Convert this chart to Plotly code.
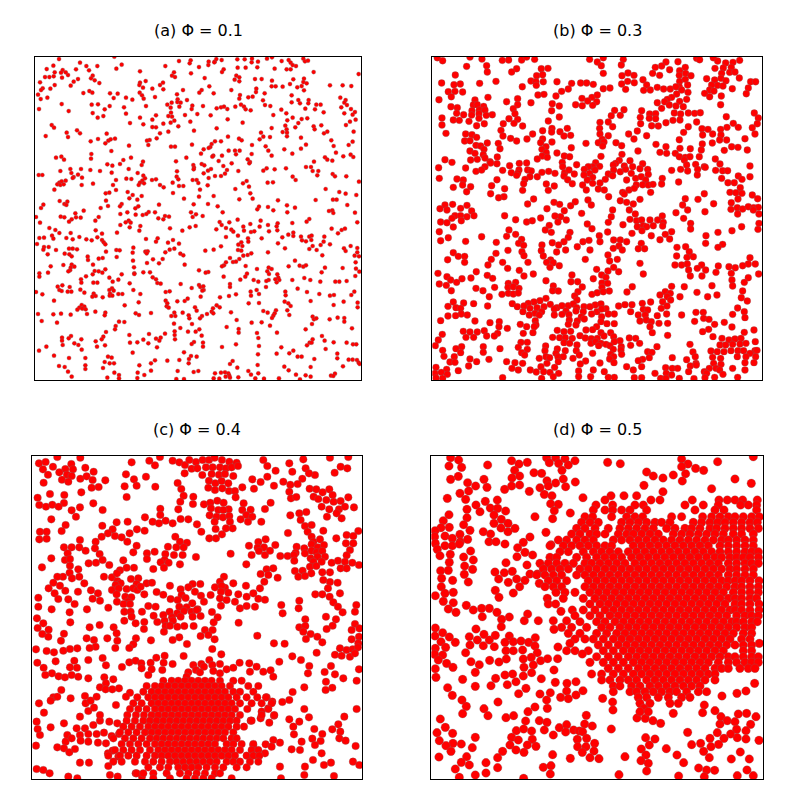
import plotly.graph_objects as go

titles = ["(a) Φ = 0.1", "(b) Φ = 0.3", "(c) Φ = 0.4", "(d) Φ = 0.5"]

# positions are in reading units of the picture, y pointing down
a_pts = [(117,147),(283,140),(180,158),(100,167),(80,177),(199,168),(207,181),(232,168),(305,164),(289,176),(104,187),(128,180),(123,188),(137,187),(144,195),(168,178),(360,184),(436,168),(477,153),(512,151),(509,160),(513,190),(537,171),(566,155),(565,165),(584,155),(589,147),(605,150),(583,157),(652,148),(674,148),(696,146),(695,157),(714,155),(741,146),(756,142),(785,153),(806,150),(812,158),(818,165),(828,168),(812,178),(800,178),(850,146),(855,154),(864,152),(881,186),(1016,192),(764,176),(712,172),(677,173),(653,173),(611,178),(606,186),(649,197),(658,202),(462,187),(456,197),(465,201),(554,204),
(75,201),(88,201),(101,199),(126,203),(174,207),(161,215),(152,227),(218,197),(213,205),(224,211),(238,219),(60,217),(68,235),(91,236),(104,225),(63,240),(54,254),(190,249),(208,243),(217,248),(270,250),(293,251),(360,218),(377,213),(358,225),(369,233),(397,236),(420,225),(429,218),(430,238),(359,248),(366,256),(489,240),(471,253),(545,240),(538,248),(568,229),(581,250),(634,240),(644,209),(658,214),(705,207),(725,207),(709,236),(708,246),(756,212),(755,229),(767,229),(788,230),(820,208),(810,222),(832,232),(852,206),(850,216),(860,220),(845,228),(852,241),(930,226),(968,226),(994,228),(815,256),(660,255),(685,262),(698,260),(734,250),(658,266),
(62,267),(82,263),(281,264),(318,263),(337,269),(371,266),(405,261),(961,263),(977,270),(973,278),(981,285),(964,292),(473,268),(472,276),(482,278),(501,270),(455,278),(442,284),(452,293),(478,290),(125,282),(215,284),(234,283),(269,288),(254,298),(57,297),(146,303),(312,292),(378,288),(517,287),(515,297),(549,288),(590,295),(603,292),(612,290),(622,297),(646,290),(663,284),(672,290),(677,298),(692,301),(729,271),(735,285),(751,288),(815,277),(835,270),(840,280),(866,270),(865,280),(889,284),(902,284),(856,296),(784,299),(799,310),(885,298),(911,307),(993,297),(1005,306),(973,310),(998,314),(218,309),(250,318),(233,323),(318,311),(360,323),(408,316),(397,329),(453,308),(456,320),(445,318),(463,332),(495,315),(532,312),(572,316),(623,328),(760,315),(818,323),(802,331),(845,327),(862,325),(1007,329),(990,335),
(330,339),(370,343),(430,341),(452,338),(511,335),(668,338),(826,352),(835,339),(796,347),(978,345),(95,345),(102,353),(397,351),(408,352),(475,349),(590,355),(755,354),(881,349),(884,358),(904,346),(800,358),(788,366),(801,368),(801,379),(445,365),(420,370),(522,362),(171,361),(180,370),(140,368),(77,378),(144,381),(260,371),(265,392),(272,388),(285,386),(723,368),(730,380),(750,381),(719,388),(912,370),(922,365),(1001,365),(843,383),(624,380),(657,386),(665,391),(389,390),(381,392),(410,385),(234,387),(212,394),(585,394),(603,394),(575,402),(934,391),(998,395),(986,405),
(256,400),(327,407),(385,405),(453,410),(465,410),(516,404),(571,411),(566,414),(551,418),(696,405),(737,409),(745,422),(793,418),(858,404),(843,416),(941,408),(948,428),(274,423),(214,432),(108,443),(124,440),(132,449),(213,446),(543,431),(580,437),(606,437),(626,422),(645,422),(659,422),(648,433),(695,432),(755,437),(817,431),(915,442),(922,449),(970,439),(992,434),(1000,441),(333,443),(310,450),(300,462),(369,455),(499,443),(468,454),(596,453),(635,460),(683,448),(690,456),(882,455),(937,452),(577,440),(262,463),(277,467),(365,465),(520,465),(545,462),(553,466),(522,473),(610,468),(688,460),
(121,483),(151,477),(154,489),(183,477),(211,480),(240,483),(174,494),(161,501),(158,504),(275,488),(326,477),(353,489),(370,497),(471,484),(470,500),(551,490),(521,478),(564,482),(573,477),(585,498),(603,498),(615,491),(621,480),(655,483),(730,482),(740,475),(764,478),(798,475),(858,471),(873,471),(878,483),(895,483),(892,496),(938,492),(945,499),(979,499),(818,500),(827,510),(56,495),(67,495),(186,503),(319,506),(334,507),(288,510),(375,505),(367,512),(396,510),(408,508),(458,518),(475,508),(518,510),(530,510),(535,519),(566,504),(680,513),(669,520),(743,518),(759,517),(1017,515),(360,518),(356,525),(372,520),(118,518),(125,514),(137,512),(112,523),(121,525),(131,523),(185,525),(219,521),(279,525),(420,525),(431,532),(477,528),(490,528),(563,526),(687,530),(646,537),(103,539),(288,540),(540,539),(917,537),
(257,550),(268,548),(323,546),(338,555),(459,549),(365,558),(958,546),(977,551),(1009,555),(691,550),(581,558),(887,570),(328,565),(352,569),(258,572),(492,566),(537,560),(658,568),(698,566),(774,571),(939,569),(950,569),(119,573),(142,575),(133,582),(305,582),(300,589),(70,584),(63,594),(139,585),(264,588),(242,594),(417,584),(355,589),(346,595),(521,583),(564,582),(593,589),(717,590),(712,598),(744,591),(801,586),(825,593),(982,585),(191,602),(322,607),(301,612),(347,614),(368,615),(405,607),(386,606),(379,612),(513,607),(528,613),(608,607),(802,607),(760,601),(937,601),(927,603),(940,609),(1005,608),
(48,621),(122,620),(133,622),(166,610),(168,622),(155,628),(182,623),(147,635),(236,621),(226,632),(326,632),(317,637),(332,638),(435,618),(447,620),(430,628),(415,625),(518,621),(548,618),(599,636),(605,645),(628,637),(653,629),(691,642),(722,632),(744,645),(773,640),(817,639),(860,635),(868,627),(1012,637),(60,638),(301,645),(329,652),(361,648),(358,662),(527,648),(509,652),(487,662),(450,655),(88,654),(106,660),(118,669),(152,669),(227,661),(246,671),(291,668),(589,658),(618,654),(634,659),(640,665),(670,650),(672,662),(693,666),(703,664),(719,650),(747,664),(770,649),(805,674),(820,668),(935,656),(965,660),(975,656),(954,670),(868,680),
(58,684),(72,683),(96,677),(100,686),(139,684),(158,688),(178,681),(199,688),(215,691),(232,682),(246,690),(251,697),(378,687),(413,685),(408,695),(444,698),(459,690),(477,701),(618,681),(654,677),(684,685),(685,695),(725,685),(772,661),(787,682),(820,678),(843,680),(846,691),(858,694),(875,677),(874,690),(913,680),(911,695),(902,705),(51,702),(256,703),(603,709),(664,697),(667,708),(655,704),(774,700),(930,703),(992,708),(72,711),(86,711),(70,719),(108,720),(147,716),(158,716),(171,718),(258,725),(289,720),(299,721),(340,713),(376,725),(383,724),(380,730),(449,719),(463,716),(436,727),(481,731),(490,736),(556,722),(581,719),(795,715),(868,717),(878,708),(890,720),(972,715),(977,723),(1012,714),(1012,727),(1004,737),(1017,739),(83,733),(134,731),(148,733),(155,739),(203,740),(290,741),(338,728),(654,720),(664,722),(670,737),(683,735),(694,730),(744,727),(907,736),
(204,750),(236,746),(248,744),(339,752),(399,748),(428,747),(417,760),(381,759),(630,744),(618,757),(639,756),(648,755),(658,747),(612,766),(606,769),(494,764),(825,752),(839,767),(850,770),(858,766),(219,764),(155,764),(130,765),(92,769),(152,773),(163,770),(677,768),(806,769),(915,773),(968,774),(1007,757),(711,777),(746,773),(755,777),(742,784),(747,792),(1008,776),(1018,785),(537,781),(565,786),(557,788),(611,800),(224,783),(236,784),(256,778),(247,788),(150,781),(145,784),(342,772),(343,790),(370,787),(390,787),(905,787),(681,791),(676,800),(661,809),(58,790),(58,800),(84,788),(218,793),(198,799),(305,793),(343,792),(398,802),(408,808),(772,793),(775,803),(778,810),(770,817),(766,808),(701,810),(715,815),(746,810),(739,813),(817,810),(853,804),(871,810),(901,815),(946,815),(958,815),(980,813),(1006,798),(183,808),(268,803),(295,809),(278,815),(184,818),(220,818),(232,818),(412,819),(422,821),(329,820),(482,822),(537,825),(630,822),(630,831),
(113,830),(127,826),(149,831),(118,840),(125,843),(143,845),(154,845),(181,839),(276,835),(281,842),(268,840),(340,840),(515,834),(541,831),(550,829),(551,840),(547,842),(710,840),(738,831),(692,845),(833,836),(48,846),(67,853),(221,851),(193,848),(217,860),(227,858),(248,862),(270,851),(269,857),(277,857),(295,852),(307,852),(361,852),(437,846),(449,844),(542,860),(600,862),(627,858),(648,853),(693,857),(717,852),(796,845),(797,856),(861,846),(898,852),(930,857),(942,855),(1003,845),(994,855),(102,872),(356,877),(437,872),(442,880),(472,874),(494,873),(503,866),(872,873),(794,875),(805,880),(971,875),(686,880),(717,879),(1013,878),(185,885),(178,893),(193,890),(187,896),(197,898),(172,899),(314,886),(440,889),(446,893),(525,892),(530,902),(579,895),(590,886),(599,892),(941,885),(1013,892),(812,888),
(802,901),(808,915),(730,903),(743,908),(768,901),(764,910),(760,917),(575,905),(580,910),(633,907),(54,912),(100,913),(123,911),(152,914),(201,912),(226,905),(256,908),(254,916),(347,910),(357,915),(393,909),(488,908),(463,908),(454,918),(466,918),(506,916),(508,925),(546,918),(561,912),(540,925),(756,924),(878,920),(882,928),(889,925),(929,928),(953,923),(973,924),(973,935),(65,933),(111,938),(297,935),(313,936),(287,948),(285,958),(650,930),(695,938),(725,937),(750,947),(876,942),(462,941),(516,942),(620,951),(481,954),(656,957),(996,955),(857,958),(504,965),(464,964),(538,958),(527,965),(656,968),
(258,966),(771,968),(711,969),(387,972),(435,971),(328,975),(464,975),(126,983),(153,978),(146,985),(250,980),(245,988),(465,988),(545,977),(906,978),(126,992),(184,988),(370,989),(408,986),(422,983),(418,992),(914,992),(878,988),(869,998),(715,984),(163,1000),(227,994),(330,998),(352,997),(385,1000),(522,996),(515,1002),(549,998),(648,1003),(941,997),(980,998),(999,1003),(1009,1003),(128,1005),(175,1005),(231,1010),(255,1006),(411,1012),(549,1010),(606,1011),(57,1022),(79,1010),(185,1019),(717,1008),(784,1012),(861,1006),(875,998),(917,1017),(338,1028),(492,1027),(714,1033),(770,1031),(808,1030),(820,1022),(952,1031),(102,1037),(513,1038),(530,1040),(833,1040),(845,1040),
(147,1044),(196,1044),(264,1040),(275,1043),(507,1047),(952,1045),(986,1049),(998,1049),(1011,1050),(1016,1058),(883,1047),(405,1051),(442,1052),(478,1050),(393,1060),(254,1056),(269,1060),(282,1060),(506,1060),(638,1053),(630,1062),(713,1065),(117,1068),(134,1071),(196,1066),(196,1077),(249,1074),(358,1066),(793,1070),(872,1071),(969,1069),(652,1073),(1019,1062),(144,1085),(283,1088),(353,1088),(373,1095),(393,1082),(473,1083),(521,1086),(535,1083),(585,1090),(603,1088),(615,1087),(625,1090),(628,1097),(685,1083),(715,1090),(806,1081),(828,1094),(857,1096),(872,1100),(945,1091),(933,1097),(940,1098),(693,1094),(155,1100),(297,1095),(297,1105),(262,1103),(352,1104),(469,1107),(492,1107),(581,1105),(598,1106),(617,1100),(630,1103),(655,1102),(706,1105),(732,1106),(777,1105),(840,1108)]

b_pts = [(52,143),(68,152),(150,141),(186,147),(247,151),(266,150),(305,150),(320,141),(344,148),(509,148),(550,143),(532,156),(544,167),(610,148),(604,165),(830,145),(839,149),(880,143),(893,153),(917,159),(939,157),(959,151),(738,156),(725,168),(706,172),(749,179),(774,155),(140,169),(200,167),(290,176),(275,186),(364,176),(384,175),(350,197),(368,194),(202,186),(106,195),(550,190),(606,197),(624,189),(642,196),(698,190),(719,196),(779,182),(796,172),(778,196),(797,190),(813,197),(885,175),(910,174),(934,172),(905,190),(929,187),(945,186),
(65,219),(102,224),(121,222),(179,220),(228,214),(333,213),(348,215),(370,215),(411,215),(455,220),(482,219),(500,219),(520,223),(605,222),(623,214),(643,218),(669,209),(680,225),(779,214),(796,208),(778,230),(803,225),(860,206),(884,210),(903,205),(893,226),(875,225),(918,212),(958,204),(992,215),(1007,215),(985,234),(307,230),(349,226),(550,236),(570,234),(617,238),(671,241),(691,240),(712,232),(731,237),(751,237),(768,230),(785,240),(804,247),(869,240),(882,243),(909,228),(937,236),(85,245),(105,244),(128,246),(445,237),(425,244),(354,255),(372,253),(408,258),(854,250),(979,251),(94,260),(204,262),(869,260),(904,258),(770,252),(755,262),(742,268),(800,268),
(57,269),(165,270),(260,275),(293,266),(333,278),(486,265),(516,262),(532,255),(503,273),(530,275),(712,278),(734,275),(779,274),(397,281),(467,284),(487,287),(518,286),(293,284),(280,296),(418,288),(395,302),(902,284),(93,290),(112,293),(160,285),(172,284),(191,289),(156,302),(178,300),(725,295),(748,285),(768,288),(790,290),(110,310),(131,314),(155,315),(177,311),(195,300),(199,316),(217,314),(285,311),(584,301),(612,299),(665,302),(574,317),(601,316),(689,312),(707,311),(763,309),(782,312),(805,309),(824,310),(841,308),(1003,309),(919,320),(66,324),(100,330),(118,331),(147,334),(177,325),(267,326),(293,328),(418,321),(661,322),(688,325),(707,326),(759,331),(780,330),(1015,324),
(170,347),(193,341),(66,345),(250,341),(282,340),(308,348),(385,333),(396,355),(442,355),(540,337),(565,336),(578,350),(662,341),(695,347),(715,348),(738,338),(830,336),(1012,341),(940,340),(955,352),(997,353),(243,361),(368,362),(420,365),(539,355),(652,363),(805,350),(846,356),(864,358),(902,358),(921,352),(78,370),(137,372),(156,374),(249,378),(338,372),(432,378),(452,376),(540,372),(565,377),(626,372),(680,377),(791,367),(848,375),(878,372),(903,375),(1005,372),(170,382),(272,385),(290,393),(321,387),(368,387),(395,366),(547,388),(642,387),(778,389),(899,390),(920,390),(975,386),(134,393),(150,392),(202,399),(235,400),(362,398),(396,396),(498,400),(535,398),(552,396),(588,398),(708,403),(847,402),(877,399),
(168,406),(182,408),(240,416),(378,410),(366,418),(454,413),(548,408),(605,407),(738,410),(811,416),(780,415),(844,420),(935,410),(954,412),(982,420),(913,421),(150,423),(192,418),(165,430),(190,434),(411,429),(379,428),(367,438),(720,427),(740,430),(654,423),(766,430),(778,440),(838,440),(232,441),(352,447),(382,442),(433,438),(449,440),(543,439),(606,433),(152,450),(172,448),(195,444),(210,455),(796,442),(810,440),(793,450),(800,465),(75,449),(96,457),(231,461),(269,467),(298,460),(320,459),(427,457),(470,464),(428,470),(527,458),(518,470),(539,469),(598,451),(587,460),(630,452),(638,470),(668,461),(827,463),(853,470),(886,447),(900,462),(990,468),(56,473),(137,474),(212,459),(195,470),(297,480),(505,470),(580,465),(613,468),
(168,484),(185,480),(248,481),(274,488),(293,490),(323,480),(334,483),(366,487),(386,484),(405,490),(434,488),(447,480),(463,492),(493,478),(509,490),(525,480),(581,480),(601,485),(617,478),(634,490),(660,476),(683,478),(755,481),(782,478),(803,483),(833,478),(856,472),(887,481),(908,482),(923,482),(290,496),(330,500),(352,500),(432,498),(492,495),(565,492),(685,493),(647,505),(664,500),(727,505),(832,495),(58,505),(111,507),(130,510),(231,509),(315,508),(443,509),(518,502),(502,510),(556,508),(578,497),(677,510),(955,498),(990,500),(905,505),(776,516),(215,527),(311,521),(379,522),(403,528),(457,521),(488,525),(518,520),(540,519),(620,510),(649,525),(668,524),(685,525),(699,523),(725,522),(924,518),(943,518),(966,508),(128,525),(152,530),(100,532),(140,545),(254,536),(308,541),(385,541),(535,537),(553,540),(499,540),(961,533),(608,547),(627,540),(643,535),(692,547),
(212,551),(252,560),(236,563),(566,560),(613,552),(930,547),(948,548),(966,550),(997,555),(504,570),(853,551),(834,568),(796,566),(341,567),(660,568),(601,572),(620,577),(640,582),(954,567),(1013,566),(323,582),(402,577),(419,583),(466,575),(452,587),(514,585),(881,581),(788,585),(934,578),(75,585),(98,583),(141,586),(60,596),(81,600),(122,595),(155,603),(381,596),(433,602),(578,600),(628,600),(803,600),(933,598),(952,593),(968,597),(985,590),(1001,593),(1015,592),(1000,600),(1017,612),(855,605),(768,608),(953,612),(485,610),(646,612),(105,617),(122,617),(141,620),(162,617),(96,625),(254,617),(422,620),(405,618),(574,620),(727,618),(791,625),
(124,632),(62,636),(81,638),(287,629),(320,636),(337,632),(362,624),(439,630),(414,636),(502,642),(565,637),(630,628),(650,632),(665,630),(690,630),(713,630),(730,637),(812,640),(1017,640),(388,646),(609,644),(652,650),(670,647),(680,650),(700,647),(728,648),(100,651),(965,650),(376,660),(394,667),(516,656),(58,665),(267,660),(563,666),(636,670),(666,662),(755,665),(812,657),(1014,658),(450,667),(936,662),(894,667),(287,673),(260,679),(185,680),(85,683),(445,682),(538,677),(694,677),(736,673),(858,677),(62,692),(137,694),(229,697),(305,688),(296,700),(432,695),(489,695),(507,691),(581,690),(601,690),(620,695),(540,695),(720,689),(749,687),(857,700),(908,703),(894,712),
(397,698),(416,705),(366,705),(311,706),(472,710),(597,708),(664,700),(655,716),(674,716),(580,715),(771,712),(797,710),(808,725),(437,720),(264,721),(228,730),(364,722),(410,726),(510,720),(607,720),(100,728),(115,739),(134,739),(306,725),(312,737),(370,738),(564,735),(770,738),(801,742),(820,740),(990,743),(83,749),(214,748),(392,750),(496,748),(592,748),(134,757),(204,765),(248,757),(324,757),(380,757),(400,758),(569,753),(660,760),(985,762),(1006,762),(765,765),(785,765),(802,762),(845,765),
(54,790),(169,785),(263,775),(298,781),(390,772),(418,767),(530,778),(581,772),(564,783),(596,785),(670,792),(832,775),(857,780),(895,768),(888,787),(927,770),(946,773),(968,767),(806,780),(1016,792),(202,796),(340,792),(456,795),(545,795),(558,802),(985,803),(153,804),(126,806),(81,800),(92,810),(110,817),(218,805),(312,798),(378,812),(453,815),(473,815),(487,831),(520,806),(546,819),(563,820),(811,798),(846,798),(934,790),(936,810),(973,817),(58,822),(79,826),(287,817),(265,820),(400,828),(546,832),(938,828),(876,827),(168,835),(224,832),(637,830),(793,830),(755,829),(94,842),(189,842),(264,832),(280,830),(297,835),(265,850),(280,852),(295,849),(246,853),(398,842),(415,843),(474,845),(516,853),(532,848),(550,845),(568,843),(621,846),(736,845),(751,850),(831,847),(968,843),
(208,860),(464,858),(720,855),(742,860),(780,860),(863,860),(891,855),(964,863),(378,865),(360,872),(342,876),(325,880),(471,870),(728,875),(752,870),(100,876),(131,879),(161,881),(277,881),(982,873),(292,890),(312,888),(330,895),(351,893),(372,890),(391,883),(411,893),(426,887),(445,887),(460,882),(470,893),(492,890),(526,885),(543,882),(558,896),(596,888),(615,884),(636,884),(667,880),(692,876),(724,895),(741,888),(84,889),(108,893),(122,895),(203,888),(953,894),(309,905),(345,910),(365,905),(403,897),(438,903),(468,903),(490,905),(510,890),(531,905),(545,897),(632,905),(670,898),(683,900),(828,907),(850,907),(973,905),(124,912),(84,918),(107,917),(142,915),(328,915),(358,915),(403,915),
(426,913),(447,914),(484,921),(515,912),(545,920),(565,912),(583,912),(655,915),(676,915),(712,917),(740,912),(785,915),(851,925),(938,913),(975,923),(62,932),(165,933),(346,932),(448,930),(472,933),(493,927),(543,935),(660,933),(679,930),(694,935),(824,934),(867,928),(210,938),(238,935),(301,943),(348,945),(445,943),(468,945),(561,941),(583,941),(690,950),(717,940),(743,940),(884,943),(913,937),(320,950),(343,950),(530,950),(936,951),(262,955),(237,950),(193,962),(130,964),(150,966),(172,966),(233,970),(339,968),(412,961),(432,965),(452,964),(498,960),(518,959),(543,968),(572,968),(697,968),(866,958),(848,965),(1002,960),(973,967),(67,973),(310,970),(223,978),(138,982),(161,982),(200,978),(398,982),(419,983),(436,983),(457,985),(480,977),(496,984),(514,986),(532,985),(552,978),(581,980),(628,984),(647,985),(743,976),(879,980),
(55,990),(46,1007),(303,997),(322,997),(432,998),(449,1000),(513,1000),(527,995),(543,1000),(558,1003),(600,992),(583,995),(659,1000),(906,985),(927,990),(945,987),(963,985),(1006,995),(900,1005),(917,1005),(938,1003),(960,1002),(978,1000),(190,1010),(125,1010),(108,1016),(295,1012),(377,1008),(412,1017),(471,1005),(536,1007),(570,1007),(604,1010),(632,1006),(711,1010),(810,1003),(1005,1022),(68,1021),(122,1028),(190,1027),(240,1016),(322,1018),(305,1028),(375,1022),(408,1030),(436,1022),(469,1022),(518,1030),(580,1018),(603,1020),(683,1025),(696,1027),(819,1026),(873,1023),(892,1025),(912,1025),(933,1022),(954,1022),(971,1022),(990,1030),(1011,1021),(72,1039),(103,1040),(314,1035),(378,1040),(414,1041),(478,1035),(572,1033),(605,1033),(581,1040),(430,1040),(688,1043),(668,1048),(1007,1040),(978,1040),(952,1040),(826,1040),(878,1042),(902,1045),(150,1047),(207,1048),(358,1045),(389,1043),(415,1055),(459,1045),(497,1053),(569,1047),(655,1052),(757,1043),(800,1049),
(90,1056),(105,1057),(170,1055),(260,1055),(285,1058),(308,1060),(381,1060),(481,1062),(540,1059),(582,1058),(828,1060),(881,1060),(903,1063),(975,1058),(1002,1058),(146,1068),(276,1075),(363,1070),(404,1072),(620,1070),(665,1070),(737,1073),(757,1075),(773,1075),(811,1068),(829,1065),(868,1075),(888,1075),(938,1075),(48,1072),(80,1078),(115,1082),(295,1080),(331,1080),(349,1086),(371,1085),(390,1087),(416,1090),(476,1083),(520,1080),(553,1085),(640,1080),(705,1090),(739,1090),(755,1095),(806,1085),(853,1085),(899,1080),(975,1080),(45,1090),(64,1087),(82,1093),(860,1090),(909,1093),(248,1103),(365,1105),(400,1100),(476,1100),(512,1100),(565,1102),(583,1102),(643,1103),(665,1103),(722,1105),(738,1105),(778,1105),(822,1106),(855,1103),(884,1102),(953,1102),(48,1104),(68,1105)]

c_pts = [(112,141),(181,143),(57,160),(77,156),(99,170),(154,162),(69,178),(196,173),(136,177),(118,187),(159,178),(221,185),(84,194),(141,194),(155,198),(126,209),(145,215),(181,206),(200,199),(71,218),(218,210),(256,211),(215,233),(236,231),(335,157),(388,152),(405,166),(420,141),(458,152),(478,157),(495,165),(508,150),(528,156),(548,150),(567,150),(584,143),(606,150),(628,155),(650,158),(515,176),(532,175),(494,190),(547,195),(558,172),(578,172),(600,172),(618,175),(635,172),(654,168),(575,192),(597,194),(615,192),(640,198),(318,193),(378,200),(342,208),(314,229),(350,227),(406,230),(473,219),(484,237),(567,212),(586,220),(605,213),(625,220),(565,233),(585,240),(607,235),(627,243),(645,243),(667,232),(184,247),(90,252),(491,257),(697,208),(702,236),(722,216),(742,200),(762,227),(767,182),(730,150),(742,168),(808,160),(850,148),(930,143),(985,141),(817,185),(857,175),(944,188),(962,170),(982,175),(885,195),(867,190),(847,206),(790,215),(833,222),(811,224),(808,245),(869,236),(889,238),(928,238),(908,247),(938,255),(813,265),(829,261),(881,260),(895,267),(919,270),(941,275),(962,273),(985,262),(133,255),(53,263),(320,261),(520,260),(519,282),(481,275),(475,298),(552,283),(571,278),(592,272),(611,278),(626,298),(671,280),(647,262),(752,278),(735,297),(132,279),(58,285),(78,290),(97,284),(116,290),(155,301),(180,292),(220,280),(248,300),(421,296),(573,295),(595,300),(610,300),(667,300),(692,299),(905,290),(928,298),(957,298),(1002,292),(975,290),(838,310),(859,306),(168,320),(375,322),(421,315),(569,316),(590,320),(609,322),(628,318),(679,315),(697,320),(811,316),(921,320),(950,310),(94,328),(290,337),(323,335),(398,335),(417,340),(437,332),(458,340),(482,327),(505,328),(584,335),(630,335),(662,328),(684,335),(724,335),(842,330),(965,325),(137,345),(247,347),(531,343),(855,348),(875,345),(618,355),(638,355),(587,357),(278,358),(125,363),(60,365),(80,365),(351,358),(374,362),(544,365),(910,362),(863,365),(1015,363),(264,370),(245,380),(329,370),(285,378),(804,369),(875,380),(980,375),(1000,378),(466,380),(305,382),(58,388),(80,386),(568,385),(588,385),(606,373),(715,396),(737,388),(880,395),(900,388),(949,385),(1000,400),(180,390),(227,395),(322,395),(480,395),(501,398),(350,407),(444,410),(469,412),(491,412),(687,407),(713,413),(732,412),(766,405),(830,410),(853,415),(875,403),(893,412),(912,405),(978,400),(132,412),(155,412),(178,412),(197,422),(225,415),(340,427),(695,435),(717,423),(735,435),(750,422),(827,428),(855,430),(875,422),(890,427),(907,423),(990,420),(143,430),(381,430),(404,425),(436,432),(462,435),(488,435),(528,441),(632,431),(781,438),(803,438),(822,435),(980,436),(239,432),(135,450),(150,447),(94,445),(381,447),(434,450),(310,451),(823,452),(872,445),(893,440),(915,440),(206,460),(228,458),(248,450),(422,457),(446,458),(268,465),(480,463),(679,463),(880,455),(905,455),(935,458),(954,452),(975,455),(997,458),(1017,465),(150,467),(66,472),(175,478),(320,473),(342,473),(400,477),(432,473),(870,470),(889,468),(962,475),(980,475),(300,481),(740,478),(760,475),(722,492),(825,483),(848,482),(874,490),(907,487),(930,487),(149,488),(129,500),(112,500),(156,505),(178,500),(252,500),(276,502),(291,490),(612,500),(773,503),(745,495),(835,500),(855,498),(910,510),(193,520),(100,518),(120,527),(86,535),(292,513),(302,520),(333,507),(355,505),(380,520),(396,518),(733,515),(287,525),(350,522),(450,527),(518,522),(541,522),(600,515),(640,520),(930,516),(953,518),(276,540),(296,535),(320,537),(340,535),(352,540),(362,530),(482,538),(505,532),(585,532),(615,533),(605,528),(678,527),(720,535),(924,535),(213,541),(174,545),(104,550),(136,542),(290,553),(373,553),(410,546),(430,554),(452,567),(485,555),(525,545),(543,557),(572,555),(625,548),(603,545),(655,553),(680,560),(700,550),(886,553),(907,553),(960,550),(234,550),(55,563),(115,567),(145,568),(218,566),(240,572),(316,560),(334,562),(324,575),(473,570),(497,564),(517,580),(552,575),(600,565),(645,575),(715,566),(735,569),(929,560),(164,582),(291,575),(311,582),(330,582),(385,588),(407,590),(478,590),(500,592),(533,598),(603,587),(620,570),(660,595),(680,588),(705,590),(838,572),(784,585),(940,577),(1009,585),(55,590),(95,598),(201,598),(265,593),(836,595),(954,590),(149,607),(313,605),(332,605),(366,605),(449,605),(472,610),(492,603),(515,605),(530,600),(576,606),(788,610),(1005,605),(968,607),(313,632),(335,620),(401,617),(430,615),(456,622),(482,620),(518,620),(542,618),(593,622),(918,620),(51,625),(70,640),(151,637),(347,640),(373,636),(412,636),(434,632),(459,632),(581,637),(656,638),(856,628),(948,628),(1005,642),(209,652),(239,645),(281,652),(372,657),(437,648),(450,647),(472,650),(493,648),(521,648),(838,652),(856,648),(938,647),(920,657),(53,654),(86,659),(432,665),(555,660),(578,660),(995,660),(1018,655),(290,670),(67,672),(132,671),(850,665),(872,672),(712,677),(542,678),(565,675),(478,682),(85,680),(200,685),(222,690),(262,685),(292,692),(348,685),(393,691),(458,690),(584,688),(858,687),(892,680),(1017,680),(995,688),(123,692),(340,703),(227,710),(209,714),(286,714),(501,702),(762,700),(794,701),(907,697),(1015,700),(48,718),(80,723),(102,727),(130,722),(150,717),(172,715),(328,714),(577,717),(890,728),(960,715),(980,720),(998,718),(1014,712),(945,734),(965,737),(990,740),(1005,730),(248,744),(491,738),(817,739),(107,754),(52,758),(163,752),(205,750),(328,757),(347,752),(364,760),(409,743),(434,737),(392,758),(431,758),(458,762),(568,750),(604,733),(544,762),(778,755),(843,750),(659,758),(688,760),(258,766),(306,771),(71,773),(150,772),(171,773),(868,768),(933,768),(395,778),(427,780),(520,765),(528,780),(552,770),(577,765),(600,762),(620,778),(640,773),(710,770),(730,785),(752,781),(1017,778),(914,786),(945,793),(76,795),(96,790),(116,799),(135,802),(155,795),(175,800),(205,805),(253,802),(365,775),(385,795),(505,787),(500,800),(540,787),(580,783),(600,790),(690,785),(760,800),(864,790),(970,805),(1010,812),
(142,975),(170,955),(195,955),(220,945),(240,932),(268,935),(292,940),(180,975),(205,972),(230,972),(252,968),(275,978),(297,972),(137,995),(155,985),(182,992),(205,995),(234,998),(258,1000),(280,985),(112,1012),(132,1015),(148,1027),(165,1017),(48,1007),(60,975),(50,935),(53,957),(92,952),(132,940),(180,920),(205,903),(222,893),(240,915),(197,880),(212,872),(230,860),(195,858),(100,862),(112,860),(124,840),(152,865),(57,880),(92,872),(72,908),(288,885),(240,832),(258,820),(280,808),(257,838),(277,838),(297,835),(330,848),(318,860),(740,862),(757,875),(745,895),(725,905),(762,917),(722,925),(748,938),(692,932),(787,876),(808,870),(818,846),(853,832),(808,928),(838,935),(853,897),(867,922),(820,950),(883,957),(822,973),(845,995),(877,986),(907,972),(937,958),(955,943),(961,965),(958,985),(977,992),(902,993),(885,1005),(840,1020),(815,1018),(1007,1008),(905,1030),(879,1050),(855,1070),(853,1095),(912,1065),(933,1058),(999,1055),(1018,1065),(780,1070),(942,1098),(783,1105),(737,1003),(760,990),(780,998),(755,1010),(735,1030),(700,1005),(180,1058),(207,1058),(265,1068),(50,1077),(70,1080),(89,1090),(145,1100),(172,1105),(270,1095),(293,1100),(347,1090),(366,1100),(635,1105),(264,1030),(278,1022),(295,1040),(918,815),(937,833),(917,840),(1010,897),(973,920)]

# dense patch of panel c, one row per line: (y, xs)
c_rows = [
(812,[430,455,475,495,515,535,555,575,600,640,665]),
(828,[380,405,425,445,465,485,505,525,545,565,585,605,630,685,715]),
(845,[370,395,415,435,455,475,495,515,535,555,575,595,615,640,660,700]),
(862,[352,385,405,425,445,465,485,505,525,545,565,585,605,625,650,680,712,738]),
(880,[340,365,395,415,435,455,475,495,515,535,555,575,595,615,635,660,695,725,755]),
(897,[330,355,380,405,425,445,465,485,505,525,545,565,585,605,625,645,682,745]),
(915,[322,348,372,395,415,435,455,475,495,515,535,555,575,595,615,635,660,725,763]),
(932,[320,345,370,390,410,430,450,470,490,510,530,550,570,590,610,630,650,695]),
(950,[310,335,360,385,405,425,445,465,485,505,525,545,565,585,605,625,650,672]),
(967,[300,325,350,375,395,415,435,455,475,495,515,535,555,575,595,615,640]),
(985,[315,340,365,390,410,430,450,470,490,510,530,550,570,590,610,635,650]),
(1002,[305,330,355,380,405,425,445,465,485,505,525,545,565,585,620,640,665,700]),
(1020,[285,310,335,360,390,415,435,455,475,495,515,535,555,575,595,615,635,660,695,715]),
(1037,[265,300,325,350,380,405,425,445,465,485,505,525,545,565,585,605,625,645,680,700,718]),
(1055,[280,305,345,375,400,425,450,470,490,510,530,550,570,590,620,640,660,690,715]),
(1072,[385,420,445,475,495,515,535,560,585,610,650,680]),
(1090,[350,370,400,440,480,505,530,555,585,600]),
(1105,[400,450,500,525,550,575]),
]

d_pts = [(92,143),(116,150),(87,168),(125,172),(203,165),(275,152),(297,162),(322,157),(284,181),(342,188),(365,190),(380,143),(407,143),(435,146),(388,158),(416,160),(465,152),(426,181),(445,165),(563,157),(601,161),(785,147),(804,162),(785,170),(893,155),(1000,140),(827,175),(851,181),(680,186),(797,191),(760,195),(700,198),(729,204),(787,213),(945,207),(994,220),(875,236),(672,226),(729,245),(92,208),(115,199),(143,218),(192,208),(276,204),(299,198),(381,212),(430,207),(466,216),(167,228),(201,232),(146,243),(120,250),(254,238),(275,228),(299,225),(328,244),(360,233),(407,219),(385,228),(437,230),(373,253),(396,257),(489,263),(82,265),(137,268),(196,274),(232,270),(168,285),(211,294),(233,295),(141,298),(257,303),(180,305),(392,281),(415,283),(403,302),(222,315),(87,314),(141,323),(345,320),(398,326),(451,309),(244,328),(70,332),(222,340),(131,344),(264,340),(63,353),(88,352),(243,354),(285,355),(150,361),(264,365),(45,362),(190,365),(212,372),(120,373),(75,378),(378,367),(330,381),(44,380),(97,385),(121,395),(143,388),(207,395),(228,395),(255,402),(310,397),(46,400),(75,407),(97,407),(118,402),(293,413),(393,404),(52,418),(152,423),(315,427),(60,437),(91,433),(131,441),(291,440),(338,435),(88,457),(160,450),(134,468),(258,458),(321,465),(62,482),(85,481),(158,478),(225,486),(253,488),(277,484),(133,493),(236,507),(265,517),(290,507),(315,511),(330,492),(352,492),(65,505),(98,511),(145,516),(64,530),(299,530),(226,541),(75,550),(100,547),(46,557),(280,549),(237,562),(70,574),(100,578),(139,586),(85,597),(108,607),(160,600),(185,595),(208,595),(231,607),(187,620),(268,621),(245,628),(323,612),(313,632),(355,632),(244,650),(46,654),(68,668),(168,657),(192,673),(45,678),(88,681),(148,680),(172,690),(208,690),(226,676),(268,678),(63,695),(106,697),(150,705),(190,707),(255,697),(280,695),(303,693),(326,697),(346,683),(223,710),(46,715),(77,712),(258,722),(280,722),(308,720),(345,708),(352,728),(414,711),(44,733),(68,735),(137,728),(55,750),(80,760),(99,772),(153,755),(178,764),(209,751),(237,756),(259,747),(310,747),(334,742),(362,752),(383,746),(413,746),(46,776),(166,787),(312,772),(340,765),(402,780),(48,802),(128,808),(227,805),(255,795),(278,792),(310,798),(335,788),(364,806),(213,827),(262,824),(288,815),(406,817),(441,820),(468,815),(166,829),(83,833),(318,835),(97,856),(296,851),(360,852),(391,848),(440,843),(489,842),(468,855),(422,862),(445,866),(380,870),(126,870),(234,876),(139,889),(382,895),(345,891),(192,896),(324,905),(128,911),(204,917),(258,923),(281,917),(61,927),(317,933),(358,932),(381,937),(76,952),(289,962),(311,957),(335,963),(418,953),(440,944),(437,966),(461,960),(373,960),(400,975),(51,968),(98,970),(166,982),(275,982),(337,988),(58,992),(99,1000),(124,1002),(78,1007),(157,1013),(270,1005),(295,990),(322,1005),(348,1009),(93,1024),(248,1024),(288,1020),(312,1027),(57,1041),(233,1043),(140,1040),(398,1034),(451,1045),(124,1057),(198,1058),(148,1065),(106,1077),(233,1073),(370,1072),(393,1067),(198,1089),(166,1095),(118,1102),(391,1092),(311,1105),
(499,916),(494,942),(517,948),(478,963),(488,965),(472,988),(500,985),(524,1000),(473,1010),(498,1010),(487,1027),(522,1023),(510,1043),(537,1046),(574,957),(548,865),(578,876),(579,900),(651,924),(676,925),(699,932),(722,940),(677,983),(705,987),(688,1005),(664,1017),(678,1035),(663,1052),(685,1060),(680,1083),(739,1016),(771,1035),(791,1058),(615,1040),(597,1094),(776,1098),(803,967),(815,1004),(842,1000),(851,1024),(868,1043),(836,1074),(860,1080),(884,1081),(853,1100),(870,985),(873,1010),(892,968),(912,985),(896,1003),(900,942),(885,902),(903,920),(922,932),(945,935),(955,912),(980,910),(1008,920),(992,943),(950,958),(978,962),(952,983),(932,972),(978,987),(1017,991),(961,1026),(934,1047),(988,1047),(981,1080),(952,1097),(1000,1097),(906,858),(951,850),(978,843),(1004,820),(853,885),(848,908),(760,910)]

# dense patch of panel d, one row per line: (y, xs)
d_rows = [
(257,[573,612,650]),
(270,[555,693,720,817,897,922,945,968,1012]),
(285,[528,578,645,670,795,850,895,962,985,1010]),
(300,[520,555,578,605,630,680,825,885,912,1010]),
(320,[495,518,575,620,645,668,755,785,848,875,900,925,945,970,995,1018]),
(337,[485,510,535,605,630,655,680,705,725,750,820,845,870,893,915,940,965,990,1012]),
(355,[470,495,525,565,600,625,650,675,700,740,765,795,815,840,870,890,915,940,965,990,1015]),
(372,[455,480,510,530,555,595,620,640,665,690,715,760,785,810,835,860,885,910,940,965,1000]),
(390,[415,440,470,495,520,580,605,630,655,680,705,730,755,780,805,830,855,880,905,925,950,975,1000]),
(407,[390,430,455,480,505,530,555,575,640,665,690,715,740,765,790,815,840,865,900,925,950,975,1000]),
(425,[420,445,490,520,545,570,595,625,650,675,700,725,750,775,800,825,850,875,900,925,950,975,995,1015]),
(442,[390,410,470,500,530,555,580,605,635,660,685,710,735,760,785,810,835,860,885,905,930,950,970,990,1015]),
(460,[360,385,410,435,460,495,515,540,565,590,615,645,670,695,720,745,770,795,820,845,870,895,925,950,975,995,1015]),
(477,[370,395,420,445,480,505,530,555,580,605,630,655,680,705,730,755,780,805,830,855,880,905,930,950,975,1000]),
(495,[350,375,400,425,470,495,520,545,570,595,620,645,670,695,720,745,770,795,820,845,870,895,925,950,975,1000]),
(512,[385,410,440,505,530,555,580,605,630,655,680,705,730,755,780,805,830,855,880,905,925,945,965,990,1017]),
(520,[358]),
(530,[375,400,425,495,520,545,570,595,620,645,670,695,720,745,770,795,820,845,870,895,920,945,965,990,1015]),
(547,[408,435,465,510,535,560,585,610,635,660,685,710,735,760,785,810,835,860,885,910,940,965,990,1015]),
(565,[382,430,490,525,550,575,600,625,650,675,700,725,750,775,800,825,850,875,900,925,945,965,990,1010]),
(582,[385,407,510,540,565,590,615,640,665,690,715,740,765,790,815,840,865,890,915,945,965,990,1017]),
(600,[457,490,525,555,580,605,630,655,680,705,730,755,780,805,830,855,880,905,930,945,965,990,1017]),
(604,[423]),
(617,[465,510,540,570,595,620,645,670,695,720,745,770,795,820,845,870,895,920,950,975,995,1015]),
(632,[400,440]),
(635,[480,530,555,585,610,635,660,685,710,735,760,785,810,835,860,885,910,935,950,970,995,1012]),
(652,[425,455,500,545,570,600,625,650,675,700,725,750,775,800,825,850,875,900,925,950,975,995]),
(658,[402]),
(670,[445,480,530,560,590,615,640,665,690,715,740,765,790,815,840,865,890,915,940,970,995]),
(687,[465,495,520,550,580,605,630,655,680,705,730,755,780,805,830,855,880,905,930,965,990]),
(700,[450,1018]),
(705,[535,565,595,620,645,670,695,720,745,770,795,820,845,870,895,920,945,970,995]),
(722,[440,465,505,550,580,610,635,660,685,710,735,760,785,810,835,860,885,910,970,995]),
(732,[487]),
(740,[530,565,595,625,650,675,700,725,750,775,800,825,850,875,900,925,945,970,995,1015]),
(757,[510,550,580,610,640,665,690,715,740,765,790,815,840,865,895,925,950,975,995,1015]),
(775,[565,595,625,655,680,705,730,755,780,805,830,855,885,905,925,960,985,1005]),
(792,[515,545,580,610,640,665,690,715,740,765,790,815,840,865,885]),
(810,[545,570,600,625,650,680,705,730,755,780,805,830,855,885]),
(828,[580,600,635,660,690,715,740,765,790,815,840]),
(845,[580,630,650,675,700,725,750,770,800,835,860]),
(862,[655,680,715,745,785,810]),
(880,[660,690,750,775]),
(895,[672]),
(905,[660,685]),
]


def unroll(rows):
    return [(x, y) for y, xs in rows for x in xs]


def add_panel(fig, n, pts, size, box, x_range, y_range):
    l, r, t, b = box
    xname, yname = f"x{n}", f"y{n}"
    fig.add_trace(go.Scatter(
        x=[p[0] for p in pts], y=[p[1] for p in pts],
        mode="markers", xaxis=xname, yaxis=yname, showlegend=False,
        marker=dict(color="#ff0000", size=size,
                    line=dict(color="rgba(110,110,110,0.7)", width=0.4)),
    ))
    axis = dict(showticklabels=False, ticks="", showgrid=False, zeroline=False,
                showline=True, mirror=True, linecolor="black", linewidth=1)
    fig.update_layout({
        f"xaxis{n}": dict(axis, domain=[l / 800, r / 800], range=x_range, anchor=yname),
        f"yaxis{n}": dict(axis, domain=[1 - b / 800, 1 - t / 800], range=y_range, anchor=xname),
    })
    fig.add_annotation(text=titles[n - 1], xref="paper", yref="paper",
                       x=(l + r) / 2 / 800, y=1 - (t - 26) / 800, showarrow=False,
                       xanchor="center", yanchor="middle",
                       font=dict(family="DejaVu Sans", size=16, color="black"))


fig = go.Figure()
add_panel(fig, 1, a_pts, 4.2, (34.7, 361.3, 56.7, 380), [44, 1024], [1110, 140])
add_panel(fig, 2, b_pts, 6.9, (432.3, 762.3, 56.7, 380), [37, 1027], [1110, 140])
add_panel(fig, 3, c_pts + unroll(c_rows), 7.6, (32.3, 362.3, 455.7, 779), [37, 1027], [1107, 137])
add_panel(fig, 4, d_pts + unroll(d_rows), 8.6, (431.3, 763.3, 455.7, 779), [34, 1030], [1107, 137])

fig.update_layout(width=800, height=800, margin=dict(l=0, r=0, t=0, b=0),
                  paper_bgcolor="white", plot_bgcolor="white")
# the page's default body margin would push the figure 8px off
fig.write_html("out.html", config={"displayModeBar": False},
               post_script="document.body.style.margin='0';")
